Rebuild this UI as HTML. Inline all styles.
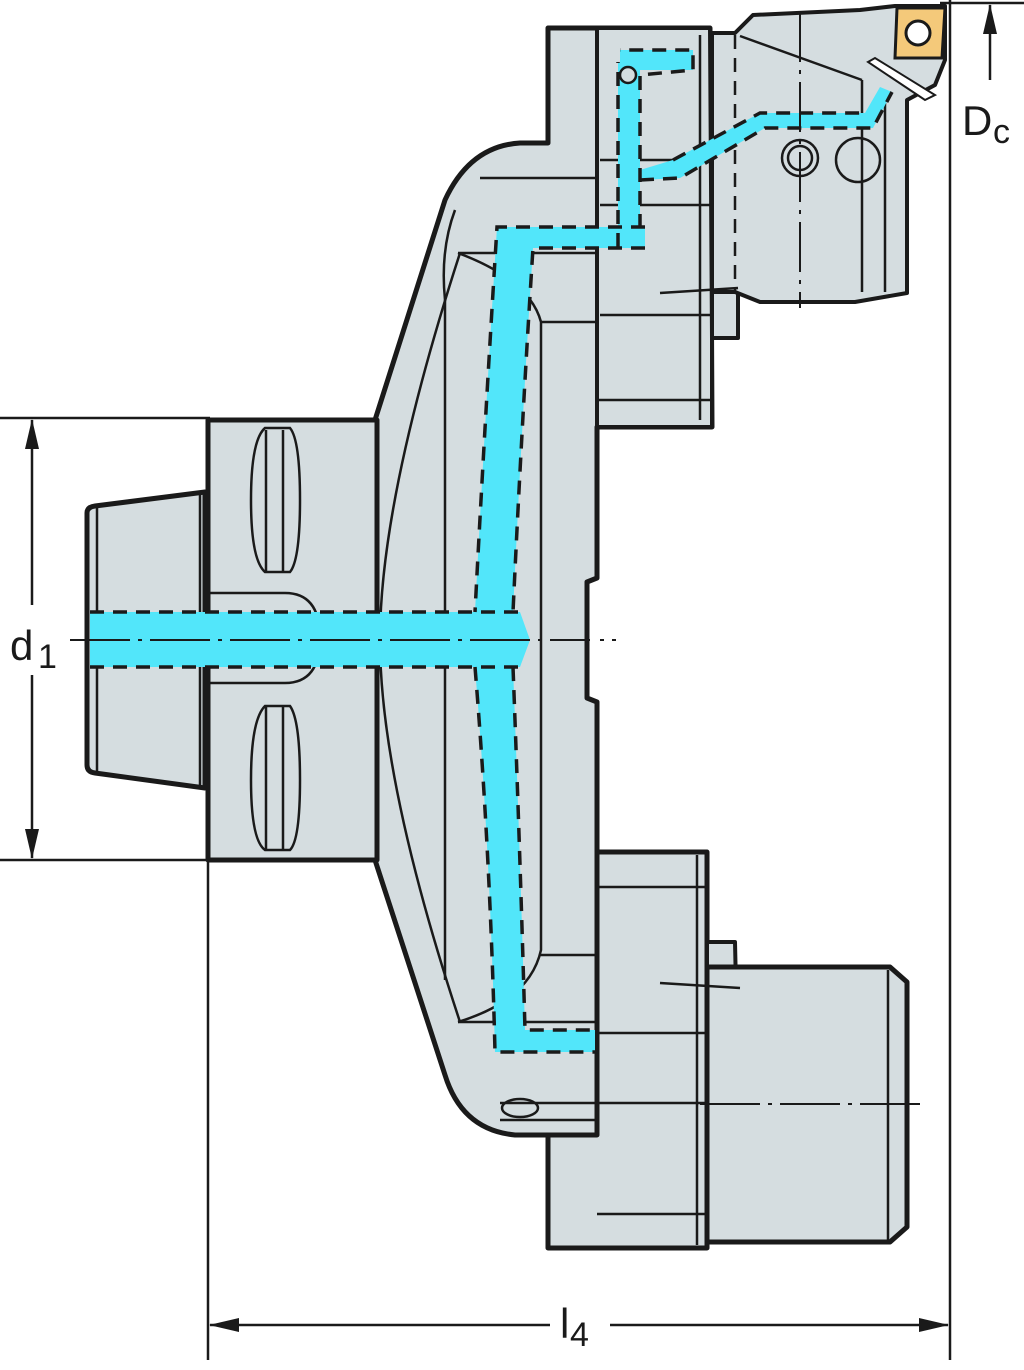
<!DOCTYPE html>
<html><head><meta charset="utf-8"><style>
html,body{margin:0;padding:0;background:#fff;}
svg{display:block;}
text{font-family:"Liberation Sans",sans-serif;fill:#1a1a1a;}
</style></head><body>
<svg width="1024" height="1370" viewBox="0 0 1024 1370" xmlns="http://www.w3.org/2000/svg">
<defs>
<marker id="ah" markerWidth="30" markerHeight="14" refX="29" refY="7" orient="auto" markerUnits="userSpaceOnUse" viewBox="0 0 30 14"><path d="M0,0 L30,7 L0,14 Z" fill="#1a1a1a"/></marker>
</defs>
<g fill="#d5dde0" stroke="#1a1a1a" stroke-linejoin="round">
<path d="M375,420 L445,200 Q470,146 520,143 L548,143 L548,28 L710,28 L712,427 L597,427 L597,578 L587,582 L587,698 L597,702 L597,1135 L515,1135 Q462,1130 445,1075 L375,860 Z" stroke-width="5"/>
<path d="M597,28 L710,28 L712,338 L738,338 L738,250 L712,245 L712,427 L597,427 Z" stroke-width="4"/>
<path d="M712,33 L735,33 L753,15 L860,10 L895,6 L945,6 L945,60 L935,85 L907,100 L907,293 L855,302 L760,302 L735,292 L712,292 Z" stroke-width="4"/>
<line x1="735" y1="35" x2="735" y2="292" stroke="#1a1a1a" stroke-width="2.5" stroke-dasharray="14,9"/>
<path d="M548,1135 L548,1248 L707,1248 L707,852 L597,852 L597,1135 Z" stroke-width="5"/>
<path d="M707,942 L735,942 L737,1032 L707,1032 Z" stroke-width="4"/>
<path d="M707,967 L890,967 L907,982 L907,1227 L890,1242 L707,1242 Z" stroke-width="5"/>
<rect x="208" y="420" width="169" height="440" stroke-width="5"/>
<path d="M87,513 Q87,507 95,506 L205,492 L205,788 L95,773 Q87,772 87,765 Z" stroke-width="5"/>
</g>
<g fill="none" stroke="#1a1a1a" stroke-width="2.5">
<line x1="97" y1="508" x2="97" y2="772"/>
<line x1="200" y1="495" x2="200" y2="785"/>
<path d="M251,500 Q251,440 265,428 L290,428 Q300,440 300,500 Q300,560 290,572 L265,572 Q251,560 251,500 Z"/>
<line x1="266" y1="430" x2="266" y2="572"/><line x1="283" y1="430" x2="283" y2="572"/>
<path d="M251,780 Q251,720 265,706 L290,706 Q300,720 300,780 Q300,840 290,850 L265,850 Q251,840 251,780 Z"/>
<line x1="266" y1="706" x2="266" y2="850"/><line x1="283" y1="706" x2="283" y2="850"/>
<path d="M210,593 L285,593 Q320,593 320,638 Q320,683 285,683 L210,683"/>
<path d="M455,210 Q440,250 445,300 L445,980"/>
<path d="M460,253 Q380,500 380,640 Q380,780 460,1022"/>
<path d="M458,253 Q530,280 541,322 L541,950 Q530,1000 458,1022"/>
<line x1="458" y1="253" x2="597" y2="253"/>
<line x1="541" y1="322" x2="597" y2="322"/>
<line x1="540" y1="955" x2="597" y2="955"/>
<line x1="458" y1="1022" x2="597" y2="1022"/>
<line x1="480" y1="178" x2="597" y2="178"/>
<line x1="597" y1="40" x2="597" y2="425"/>
<line x1="600" y1="160" x2="710" y2="160"/>
<line x1="600" y1="205" x2="710" y2="205"/>
<line x1="600" y1="315" x2="710" y2="315"/>
<line x1="597" y1="400" x2="710" y2="400"/>
<line x1="700" y1="35" x2="700" y2="420"/>
<line x1="740" y1="36" x2="862" y2="80"/>
<line x1="862" y1="80" x2="862" y2="292"/>
<line x1="885" y1="100" x2="885" y2="292"/>
<circle cx="800" cy="158" r="18"/><circle cx="800" cy="158" r="12"/>
<circle cx="858" cy="160" r="22"/>
<line x1="597" y1="887" x2="707" y2="887"/>
<line x1="597" y1="1033" x2="707" y2="1033"/>
<line x1="500" y1="1103" x2="707" y2="1103"/>
<line x1="500" y1="1120" x2="597" y2="1120"/>
<line x1="597" y1="1214" x2="707" y2="1214"/>
<line x1="697" y1="855" x2="697" y2="1245"/>
<line x1="888" y1="970" x2="888" y2="1240"/>
<ellipse cx="520" cy="1108" rx="18" ry="9"/>
<line x1="660" y1="293" x2="738" y2="288"/>
<line x1="660" y1="983" x2="740" y2="988"/>
</g>
<g fill="#52e6fa">
<path d="M497,227 L645,227 L645,248 L533,248 Q522,420 513,612 L475,612 Q485,420 497,227 Z"/>
<path d="M475,667 L513,667 Q520,850 525,1030 L595,1030 L595,1052 L495,1052 Q490,850 475,667 Z"/>
<rect x="90" y="612" width="430" height="55"/>
<path d="M520,612 L530,640 L520,667 Z"/>
<rect x="618" y="62" width="22" height="185"/>
<rect x="620" y="50" width="73" height="20"/>
<path d="M640,170 L673,160 L760,113 L865,113 L880,87 L892,92 L873,128 L765,128 L680,178 L640,180 Z"/>
</g>
<g fill="none" stroke="#1a1a1a" stroke-width="3.5" stroke-dasharray="14,9">
<line x1="90" y1="612" x2="520" y2="612"/><line x1="90" y1="667" x2="520" y2="667"/>
<path d="M645,227 L497,227 Q485,420 475,612"/>
<path d="M645,248 L533,248 Q522,420 513,612"/>
<path d="M475,667 Q490,850 495,1052 L595,1052"/>
<path d="M513,667 Q520,850 525,1030 L595,1030"/>
<path d="M618,247 L618,62"/><path d="M640,228 L640,75 L693,70 L693,50 L620,50"/>
<path d="M640,180 L680,178 L765,128 L873,128 L892,92"/>
<path d="M673,160 L760,113 L865,113"/>
</g>
<circle cx="628" cy="75" r="8" fill="#d5dde0" stroke="#1a1a1a" stroke-width="2.5"/>
<path d="M897,8 L945,8 L942,58 L895,58 Z" fill="#f4c97a" stroke="#1a1a1a" stroke-width="3"/>
<circle cx="918" cy="33" r="12" fill="#fff" stroke="#1a1a1a" stroke-width="3"/>
<path d="M868,62 L875,58 L935,95 L925,100 Z" fill="#fff" stroke="#1a1a1a" stroke-width="2"/>
<g stroke="#1a1a1a" stroke-width="2" fill="none">
<line x1="70" y1="640" x2="590" y2="640" stroke-dasharray="60,8,4,8"/>
<line x1="600" y1="640" x2="620" y2="640" stroke-dasharray="4,8"/>
<line x1="800" y1="12" x2="800" y2="308" stroke-dasharray="50,8,4,8"/>
<line x1="700" y1="1104" x2="922" y2="1104" stroke-dasharray="60,8,4,8"/>
</g>
<g stroke="#1a1a1a" stroke-width="2.5" fill="none">
<line x1="0" y1="418" x2="210" y2="418"/>
<line x1="0" y1="860" x2="210" y2="860"/>
<line x1="32" y1="605" x2="32" y2="420" marker-end="url(#ah)"/>
<line x1="32" y1="675" x2="32" y2="858" marker-end="url(#ah)"/>
<line x1="208" y1="860" x2="208" y2="1360"/>
<line x1="950" y1="0" x2="950" y2="1360"/>
<line x1="550" y1="1325" x2="210" y2="1325" marker-end="url(#ah)"/>
<line x1="610" y1="1325" x2="948" y2="1325" marker-end="url(#ah)"/>
<line x1="940" y1="3" x2="1024" y2="3"/>
<line x1="990" y1="80" x2="990" y2="5" marker-end="url(#ah)"/>
</g>
<text x="10" y="660" font-size="42">d</text><text x="38" y="668" font-size="34">1</text>
<text x="560" y="1338" font-size="42">l</text><text x="570" y="1346" font-size="34">4</text>
<text x="962" y="135" font-size="42">D</text><text x="993" y="143" font-size="34">c</text>
</svg>
</body></html>
